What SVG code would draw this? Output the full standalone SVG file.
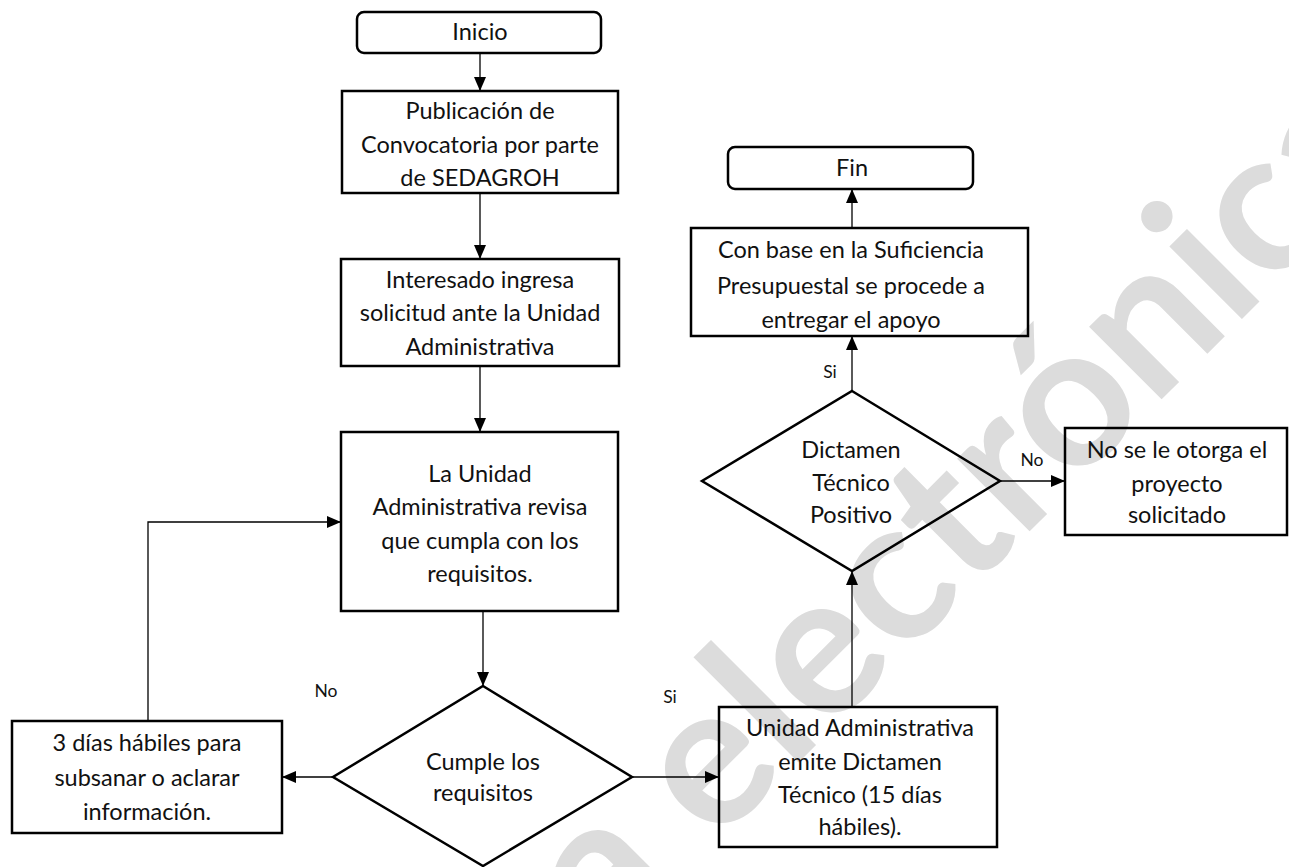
<svg xmlns="http://www.w3.org/2000/svg" width="1289" height="867" viewBox="0 0 1289 867">
<style>
.wm{font-family:Lato,"Liberation Sans",sans-serif;font-size:200px;font-weight:700;fill:#dcdcdc}
.box{fill:none;stroke:#000;stroke-width:2.5}
.t{font-family:Lato,"Liberation Sans",sans-serif;font-size:23.5px;fill:#111;text-anchor:middle}
.lbl{font-family:Lato,"Liberation Sans",sans-serif;font-size:17.5px;fill:#111;text-anchor:middle}
.edge{fill:none;stroke:#000;stroke-width:1.3;marker-end:url(#arr)}
</style>
<defs>
<marker id="arr" viewBox="0 0 14 12" refX="14" refY="6" markerWidth="14" markerHeight="12" markerUnits="userSpaceOnUse" orient="auto">
<path d="M0,0 L14,6 L0,12 z" fill="#000"/>
</marker>
</defs>
<rect width="1289" height="867" fill="#fff"/>
<text class="wm" x="608" y="953" transform="rotate(-45 608 953)">a electrónica</text>

<g id="connectors">
<path class="edge" d="M480,53 V91"/>
<path class="edge" d="M480,193 V259"/>
<path class="edge" d="M480,366 V432"/>
<path class="edge" d="M483,611 V686"/>
<path class="edge" d="M333,777 H282"/>
<path class="edge" d="M148,721 V522 H341"/>
<path class="edge" d="M632,777 H719"/>
<path class="edge" d="M852,707 V571"/>
<path class="edge" d="M1000,481 H1065"/>
<path class="edge" d="M852,391 V336"/>
<path class="edge" d="M852,228 V189"/>
<text class="lbl" x="326" y="697">No</text>
<text class="lbl" x="670" y="703">Si</text>
<text class="lbl" x="1032" y="466">No</text>
<text class="lbl" x="830" y="378">Si</text>
</g>

<g id="inicio">
<rect class="box" x="357" y="12" width="244" height="41" rx="7"/>
<text class="t" x="480" y="40">Inicio</text>
</g>
<g id="publicacion">
<rect class="box" x="342" y="91" width="276" height="102"/>
<text class="t" x="480" y="119">Publicación de</text>
<text class="t" x="480" y="153">Convocatoria por parte</text>
<text class="t" x="480" y="186">de SEDAGROH</text>
</g>
<g id="interesado">
<rect class="box" x="341" y="259" width="278" height="107"/>
<text class="t" x="480" y="288">Interesado ingresa</text>
<text class="t" x="480" y="321">solicitud ante la Unidad</text>
<text class="t" x="480" y="355">Administrativa</text>
</g>
<g id="revisa">
<rect class="box" x="341" y="432" width="277" height="179"/>
<text class="t" x="480" y="482">La Unidad</text>
<text class="t" x="480" y="515">Administrativa revisa</text>
<text class="t" x="480" y="549">que cumpla con los</text>
<text class="t" x="480" y="582">requisitos.</text>
</g>
<g id="cumple">
<polygon class="box" points="483,686 632,777 483,866 333,777"/>
<text class="t" x="483" y="770">Cumple los</text>
<text class="t" x="483" y="801">requisitos</text>
</g>
<g id="subsanar">
<rect class="box" x="12" y="721" width="270" height="112"/>
<text class="t" x="147" y="751">3 días hábiles para</text>
<text class="t" x="147" y="786">subsanar o aclarar</text>
<text class="t" x="147" y="820">información.</text>
</g>
<g id="dictamen">
<rect class="box" x="719" y="707" width="278" height="140"/>
<text class="t" x="860" y="736">Unidad Administrativa</text>
<text class="t" x="860" y="770">emite Dictamen</text>
<text class="t" x="860" y="803">Técnico (15 días</text>
<text class="t" x="860" y="835">hábiles).</text>
</g>
<g id="positivo">
<polygon class="box" points="852,391 1000,481 852,571 702,481"/>
<text class="t" x="851" y="458">Dictamen</text>
<text class="t" x="851" y="491">Técnico</text>
<text class="t" x="851" y="523">Positivo</text>
</g>
<g id="no-otorga">
<rect class="box" x="1065" y="428" width="222" height="107"/>
<text class="t" x="1177" y="458">No se le otorga el</text>
<text class="t" x="1177" y="492">proyecto</text>
<text class="t" x="1177" y="523">solicitado</text>
</g>
<g id="entregar">
<rect class="box" x="691" y="228" width="337" height="108"/>
<text class="t" x="851" y="258">Con base en la Suficiencia</text>
<text class="t" x="851" y="294">Presupuestal se procede a</text>
<text class="t" x="851" y="328">entregar el apoyo</text>
</g>
<g id="fin">
<rect class="box" x="728" y="147" width="245" height="42" rx="7"/>
<text class="t" x="852" y="176">Fin</text>
</g>
</svg>
